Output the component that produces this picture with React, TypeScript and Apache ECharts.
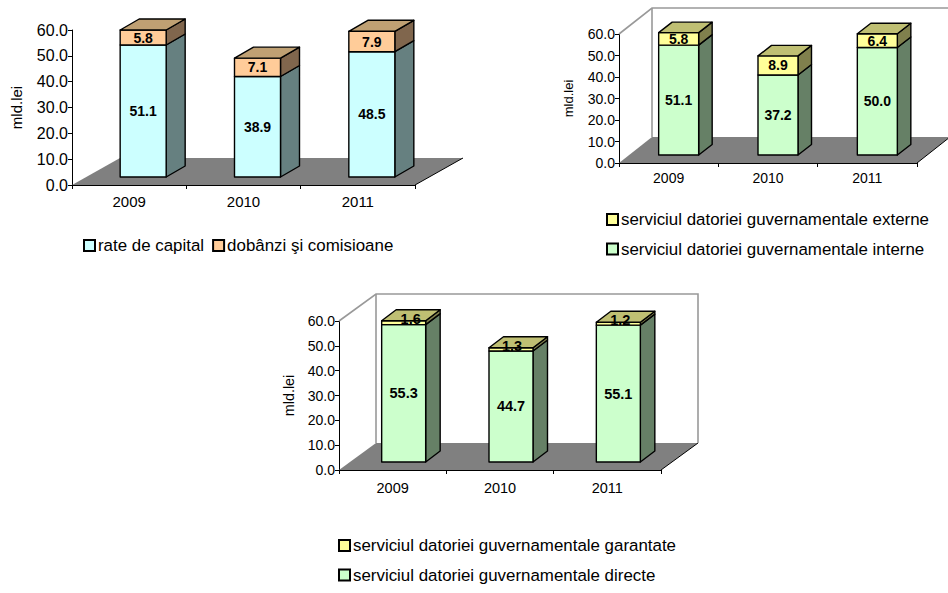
import React, { useEffect, useRef } from "react";
import * as echarts from "echarts";

const years = ["2009", "2010", "2011"];
const yTicksMax = 60;

const rateCapital = [51.1, 38.9, 48.5];
const dobanzi = [5.8, 7.1, 7.9];
const interne = [51.1, 37.2, 50.0];
const externe = [5.8, 8.9, 6.4];
const directe = [55.3, 44.7, 55.1];
const garantate = [1.6, 1.3, 1.2];

const FONT = "Liberation Sans";

const CYAN = { front: "#CCFFFF", side: "#668080", top: "#99BFBF" };
const ORANGE = { front: "#FFCC99", side: "#80664D", top: "#BFA073" };
const GREEN = { front: "#CCFFCC", side: "#668066", top: "#99BF99" };
const YELLOW = { front: "#FFFF99", side: "#80804D", top: "#BFBF73" };

type Layout = {
  grid: { left: number; top: number; width: number; height: number };
  floor: [number, number];
  base: [number, number];
  depth: [number, number];
  barW: number;
  wall: boolean;
  rightWall: boolean;
  xFont: number;
  yFont: number;
  xMargin: number;
  nameFont: number;
  nameGap: number;
  labelFont: number;
};

const layouts: Layout[] = [
  {
    grid: { left: 72, top: 30, width: 343, height: 155 },
    floor: [48, 27], base: [14, 8], depth: [19, 11], barW: 46,
    wall: false, rightWall: false, xFont: 15, yFont: 16, xMargin: 9,
    nameFont: 15, nameGap: 48, labelFont: 14,
  },
  {
    grid: { left: 619, top: 34, width: 298, height: 129 },
    floor: [33, 26], base: [10, 8], depth: [13.5, 10.5], barW: 40,
    wall: true, rightWall: false, xFont: 14, yFont: 14, xMargin: 7.5,
    nameFont: 13, nameGap: 44, labelFont: 14,
  },
  {
    grid: { left: 339, top: 321, width: 322, height: 149 },
    floor: [37, 27], base: [11, 8], depth: [14.5, 11], barW: 44,
    wall: true, rightWall: true, xFont: 14.5, yFont: 14, xMargin: 10,
    nameFont: 14.4, nameGap: 43, labelFont: 14.5,
  },
];

// nudges of the hand-placed labels in the third chart
const labelShift: Record<string, [number, number][]> = {
  "serviciul datoriei guvernamentale garantate": [[7, -4], [1, -3], [2, -4]],
};

function poly(points: number[][], fill: string) {
  return {
    type: "polygon",
    shape: { points },
    style: { fill, stroke: "#000", lineWidth: 1.4, lineJoin: "round" },
  };
}

function backdrop(chart: number) {
  const L = layouts[chart];
  return {
    type: "custom",
    silent: true,
    xAxisIndex: chart,
    yAxisIndex: chart,
    z: 1,
    data: [[0, 0]],
    encode: { x: 0, y: 1 },
    renderItem: (params: any) => {
      const { x, y, width, height } = params.coordSys;
      const [fx, fy] = L.floor;
      const bottom = y + height;
      const right = x + width;
      const children: any[] = [
        {
          type: "polygon",
          shape: { points: [[x, bottom], [right, bottom], [right + fx, bottom - fy], [x + fx, bottom - fy]] },
          style: { fill: "#808080" },
        },
        {
          type: "line",
          shape: { x1: right, y1: bottom, x2: right + fx, y2: bottom - fy },
          style: { stroke: "#000", lineWidth: 1 },
        },
      ];
      if (L.wall) {
        const wallPts = [
          [x, y],
          [x + fx, y - fy],
          ...(L.rightWall
            ? [[right + fx, y - fy], [right + fx, bottom - fy]]
            : [[right + fx, y - fy]]),
        ];
        children.push({
          type: "polyline",
          shape: { points: wallPts },
          style: { stroke: "#999", lineWidth: 1.6, fill: "none" },
        });
        children.push({
          type: "line",
          shape: { x1: x + fx, y1: y - fy, x2: x + fx, y2: bottom - fy },
          style: { stroke: "#999", lineWidth: 1.6 },
        });
      }
      return { type: "group", children };
    },
  };
}

function segment(
  chart: number,
  name: string,
  values: number[],
  below: number[] | null,
  colors: { front: string; side: string; top: string },
  isTop: boolean
) {
  const L = layouts[chart];
  const shifts = labelShift[name];
  return {
    type: "custom",
    name,
    xAxisIndex: chart,
    yAxisIndex: chart,
    z: isTop ? 3 : 2,
    itemStyle: { color: colors.front, borderColor: "#000", borderWidth: 1 },
    data: values.map((v, i) => {
      const start = below ? below[i] : 0;
      return [i, start, start + v];
    }),
    encode: { x: 0, y: [1, 2] },
    renderItem: (params: any, api: any) => {
      const i = api.value(0);
      const p0 = api.coord([i, api.value(1)]);
      const p1 = api.coord([i, api.value(2)]);
      const [bx, by] = L.base;
      const [dx, dy] = L.depth;
      const xl = p0[0] + bx - L.barW / 2;
      const xr = xl + L.barW;
      const yb = p0[1] - by;
      const yt = p1[1] - by;
      const shift = shifts ? shifts[params.dataIndex] : [0, 0];
      const children: any[] = [
        poly([[xr, yb], [xr + dx, yb - dy], [xr + dx, yt - dy], [xr, yt]], colors.side),
        poly([[xl, yb], [xr, yb], [xr, yt], [xl, yt]], colors.front),
      ];
      if (isTop) {
        children.push(poly([[xl, yt], [xr, yt], [xr + dx, yt - dy], [xl + dx, yt - dy]], colors.top));
      }
      children.push({
        type: "text",
        z2: 10,
        style: {
          x: (xl + xr) / 2 + shift[0],
          y: (yb + yt) / 2 + shift[1],
          text: values[params.dataIndex].toFixed(1),
          align: "center",
          verticalAlign: "middle",
          fill: "#000",
          font: `bold ${L.labelFont}px "${FONT}"`,
        },
      });
      return { type: "group", children };
    },
  };
}

function xAxis(chart: number) {
  const L = layouts[chart];
  return {
    type: "category",
    gridIndex: chart,
    data: years,
    axisLine: { lineStyle: { color: "#000", width: 1.2 } },
    axisTick: { show: true, length: 4, alignWithLabel: false, lineStyle: { color: "#000" } },
    axisLabel: { color: "#000", fontFamily: FONT, fontSize: L.xFont, margin: L.xMargin },
    splitLine: { show: false },
  };
}

function yAxis(chart: number) {
  const L = layouts[chart];
  return {
    type: "value",
    gridIndex: chart,
    min: 0,
    max: yTicksMax,
    interval: 10,
    name: "mld.lei",
    nameLocation: "middle",
    nameRotate: 90,
    nameGap: L.nameGap,
    nameTextStyle: { color: "#000", fontFamily: FONT, fontSize: L.nameFont },
    axisLine: { show: true, lineStyle: { color: "#000", width: 1 } },
    axisTick: { show: true, length: 4, lineStyle: { color: "#000" } },
    axisLabel: {
      color: "#000",
      fontFamily: FONT,
      fontSize: L.yFont,
      margin: 4,
      formatter: (v: number) => v.toFixed(1),
    },
    splitLine: { show: false },
  };
}

const legendBase = {
  itemWidth: 11,
  itemHeight: 11,
  icon: "rect",
  padding: 0,
  textStyle: { color: "#000", fontFamily: FONT, fontSize: 16.9, padding: [0, 0, 0, -2] },
};

const option: any = {
  animation: false,
  backgroundColor: "#fff",
  grid: layouts.map((L) => ({ ...L.grid, containLabel: false })),
  xAxis: layouts.map((_, c) => xAxis(c)),
  yAxis: layouts.map((_, c) => yAxis(c)),
  legend: [
    {
      ...legendBase,
      left: 83, top: 237, orient: "horizontal", itemGap: 8,
      data: ["rate de capital", "dobânzi şi comisioane"],
    },
    {
      ...legendBase,
      left: 606, top: 211, orient: "vertical", itemGap: 12.5,
      data: ["serviciul datoriei guvernamentale externe", "serviciul datoriei guvernamentale interne"],
    },
    {
      ...legendBase,
      left: 338, top: 537, orient: "vertical", itemGap: 12.5,
      data: ["serviciul datoriei guvernamentale garantate", "serviciul datoriei guvernamentale directe"],
    },
  ],
  series: [
    backdrop(0),
    segment(0, "rate de capital", rateCapital, null, CYAN, false),
    segment(0, "dobânzi şi comisioane", dobanzi, rateCapital, ORANGE, true),
    backdrop(1),
    segment(1, "serviciul datoriei guvernamentale interne", interne, null, GREEN, false),
    segment(1, "serviciul datoriei guvernamentale externe", externe, interne, YELLOW, true),
    backdrop(2),
    segment(2, "serviciul datoriei guvernamentale directe", directe, null, GREEN, false),
    segment(2, "serviciul datoriei guvernamentale garantate", garantate, directe, YELLOW, true),
  ],
};

export default function App() {
  const ref = useRef<HTMLDivElement>(null);
  useEffect(() => {
    const chart = echarts.init(ref.current!, null, { renderer: "svg" });
    chart.setOption(option);
    return () => chart.dispose();
  }, []);
  return (
    <div
      ref={ref}
      style={{ position: "absolute", left: 0, top: 0, width: 948, height: 593 }}
    />
  );
}
